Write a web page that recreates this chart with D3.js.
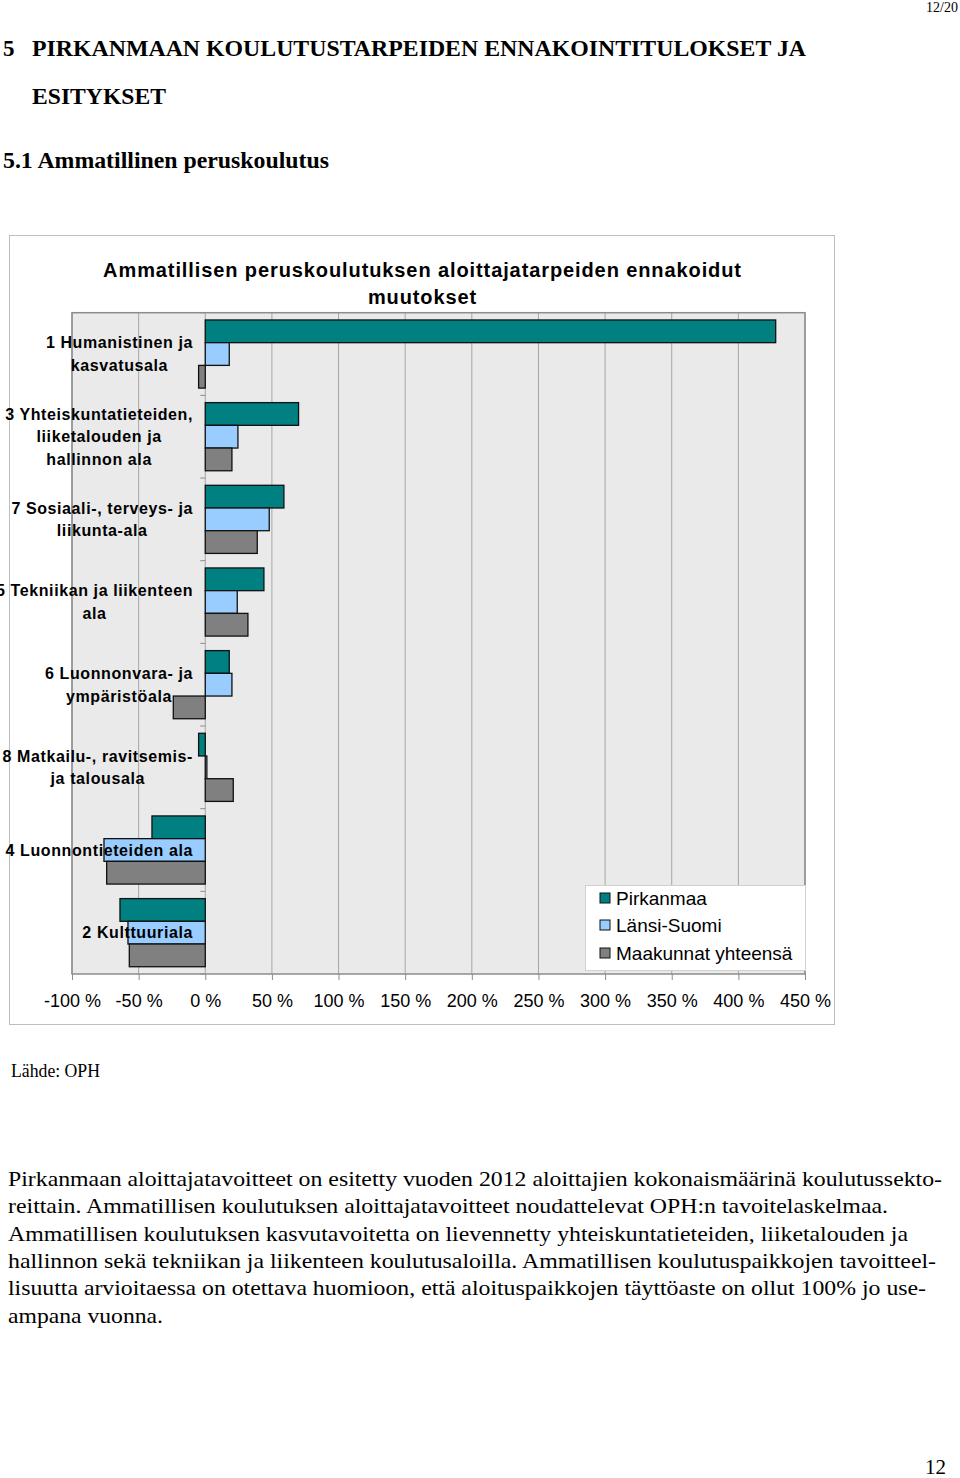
<!DOCTYPE html>
<html><head><meta charset="utf-8">
<script src="https://cdn.jsdelivr.net/npm/d3@7"></script>
<style>
html,body{margin:0;padding:0;background:#fff;}
svg{display:block;}
</style></head>
<body>
<svg id="page" width="960" height="1478"></svg>
<script>
// ---- data ----
const categories = [
  "1 Humanistinen ja kasvatusala",
  "3 Yhteiskuntatieteiden, liiketalouden ja hallinnon ala",
  "7 Sosiaali-, terveys- ja liikunta-ala",
  "5 Tekniikan ja liikenteen ala",
  "6 Luonnonvara- ja ympäristöala",
  "8 Matkailu-, ravitsemis- ja talousala",
  "4 Luonnontieteiden ala",
  "2 Kulttuuriala"
];
const categoryLines = [
  ["1 Humanistinen ja","kasvatusala"],
  ["3 Yhteiskuntatieteiden,","liiketalouden ja","hallinnon ala"],
  ["7 Sosiaali-, terveys- ja","liikunta-ala"],
  ["5 Tekniikan ja liikenteen","ala"],
  ["6 Luonnonvara- ja","ympäristöala"],
  ["8 Matkailu-, ravitsemis-","ja talousala"],
  ["4 Luonnontieteiden ala"],
  ["2 Kulttuuriala"]
];
const seriesNames = ["Pirkanmaa","Länsi-Suomi","Maakunnat yhteensä"];
const pirkanmaa  = [428, 70, 59, 44, 18, -5, -40, -64];
const lansiSuomi = [18, 24.5, 48, 24, 20, 1.2, -76, -58];
const maakunnat  = [-5, 20, 39, 32, -24, 21, -74, -57];
const xTicks = [-100,-50,0,50,100,150,200,250,300,350,400,450];
const colors = ["#008080","#99CCFF","#808080"];

const paragraph = [
  "Pirkanmaan aloittajatavoitteet on esitetty vuoden 2012 aloittajien kokonaismäärinä koulutussekto-",
  "reittain. Ammatillisen koulutuksen aloittajatavoitteet noudattelevat OPH:n tavoitelaskelmaa.",
  "Ammatillisen koulutuksen kasvutavoitetta on lievennetty yhteiskuntatieteiden, liiketalouden ja",
  "hallinnon sekä tekniikan ja liikenteen koulutusaloilla. Ammatillisen koulutuspaikkojen tavoitteel-",
  "lisuutta arvioitaessa on otettava huomioon, että aloituspaikkojen täyttöaste on ollut 100% jo use-",
  "ampana vuonna."
];
const paragraphRight = [942, 888, 908, 936, 926, 163];

const series = [pirkanmaa, lansiSuomi, maakunnat];

const svg = d3.select("#page");
svg.append("rect").attr("width",960).attr("height",1478).attr("fill","#fff");

const serif = "'Liberation Serif','Times New Roman',serif";
const sans = "'Liberation Sans',Arial,sans-serif";

// ---- page text ----
svg.append("text").attr("x",958).attr("y",12).attr("text-anchor","end")
  .attr("font-family",serif).attr("font-size",14).text("12/20");
svg.append("text").attr("x",3).attr("y",56).attr("font-family",serif).attr("font-weight","bold")
  .attr("font-size",23).text("5");
svg.append("text").attr("x",32).attr("y",56).attr("font-family",serif).attr("font-weight","bold")
  .attr("font-size",23).attr("textLength",774).attr("lengthAdjust","spacingAndGlyphs")
  .text("PIRKANMAAN KOULUTUSTARPEIDEN ENNAKOINTITULOKSET JA");
svg.append("text").attr("x",32).attr("y",104).attr("font-family",serif).attr("font-weight","bold")
  .attr("font-size",23).attr("textLength",134).attr("lengthAdjust","spacingAndGlyphs")
  .text("ESITYKSET");
svg.append("text").attr("x",3).attr("y",168).attr("font-family",serif).attr("font-weight","bold")
  .attr("font-size",23).attr("textLength",326).attr("lengthAdjust","spacingAndGlyphs")
  .text("5.1 Ammatillinen peruskoulutus");

// ---- chart frame ----
svg.append("rect").attr("x",9.5).attr("y",235.5).attr("width",825).attr("height",789)
  .attr("fill","#fff").attr("stroke","#BDBDBD").attr("stroke-width",1);

svg.append("text").attr("x",422.5).attr("y",277).attr("text-anchor","middle")
  .attr("font-family",sans).attr("font-weight","bold").attr("font-size",20).attr("letter-spacing","0.9px")
  .text("Ammatillisen peruskoulutuksen aloittajatarpeiden ennakoidut");
svg.append("text").attr("x",422.5).attr("y",304).attr("text-anchor","middle")
  .attr("font-family",sans).attr("font-weight","bold").attr("font-size",20).attr("letter-spacing","0.9px")
  .text("muutokset");

const plot = {left:72, right:805, top:312.7, bottom:974};
const x = d3.scaleLinear().domain([-100,450]).range([plot.left, plot.right]);
const y = d3.scaleBand().domain(categories).range([plot.top, plot.bottom]).padding(0);
const yInner = d3.scaleBand().domain(seriesNames).range([0, y.bandwidth()])
  .paddingInner(0).paddingOuter(0.32);

svg.append("rect").attr("x",plot.left).attr("y",plot.top)
  .attr("width",plot.right-plot.left).attr("height",plot.bottom-plot.top)
  .attr("fill","#EAEAEA");

// gridlines
svg.append("g").selectAll("line").data(xTicks).join("line")
  .attr("x1",d=>x(d)).attr("x2",d=>x(d)).attr("y1",plot.top).attr("y2",plot.bottom)
  .attr("stroke","#A6A6A6").attr("stroke-width",1);

svg.append("rect").attr("x",plot.left).attr("y",plot.top)
  .attr("width",plot.right-plot.left).attr("height",plot.bottom-plot.top)
  .attr("fill","none").attr("stroke","#8C8C8C").attr("stroke-width",1.5);

// category axis ticks at zero
const catBounds = categories.map(c=>y(c)).concat([plot.bottom]);
svg.append("g").selectAll("line").data(catBounds).join("line")
  .attr("x1",x(0)-5).attr("x2",x(0)).attr("y1",d=>d).attr("y2",d=>d)
  .attr("stroke","#8C8C8C").attr("stroke-width",1);

// bars
const g = svg.append("g");
categories.forEach((c,i)=>{
  series.forEach((s,j)=>{
    const v = s[i];
    g.append("rect")
      .attr("x", x(Math.min(0,v)))
      .attr("y", y(c)+yInner(seriesNames[j]))
      .attr("width", Math.abs(x(v)-x(0)))
      .attr("height", yInner.bandwidth())
      .attr("fill", colors[j]).attr("stroke","#111").attr("stroke-width",1.3);
  });
});

// bottom axis
const xAxis = d3.axisBottom(x).tickValues(xTicks).tickSize(6).tickFormat(d=>d+" %");
const ax = svg.append("g").attr("transform",`translate(0,${plot.bottom})`).call(xAxis);
ax.select(".domain").remove();
ax.selectAll(".tick line").attr("stroke","#8C8C8C");
ax.selectAll(".tick text").attr("font-family",sans).attr("font-size",18).attr("fill","#000")
  .attr("y",20).attr("dy","0.71em");

// category labels
const labG = svg.append("g");
categories.forEach((c,i)=>{
  const lines = categoryLines[i];
  const cy = y(c)+y.bandwidth()/2;
  const lh = 22.5;
  const t = labG.append("text").attr("font-family",sans).attr("font-weight","bold")
    .attr("font-size",16).attr("letter-spacing","0.6px").attr("fill","#000");
  const spans = lines.map((l,k)=> t.append("tspan").attr("y", cy + (k-(lines.length-1)/2)*lh).attr("dy","0.35em").text(l));
  let maxW = 0;
  spans.forEach(sp=>{ maxW = Math.max(maxW, sp.node().getComputedTextLength()); });
  const center = 193 - maxW/2;
  t.attr("text-anchor","middle");
  spans.forEach(sp=> sp.attr("x", center));
});

// legend
const leg = svg.append("g");
leg.append("rect").attr("x",585.5).attr("y",885.5).attr("width",220).attr("height",85)
  .attr("fill","#fff").attr("stroke","#D0D0D0");
const legY = [898, 925, 953];
seriesNames.forEach((n,j)=>{
  leg.append("rect").attr("x",600).attr("y",legY[j]-5).attr("width",10).attr("height",10)
    .attr("fill",colors[j]).attr("stroke","#111").attr("stroke-width",1);
  leg.append("text").attr("x",616).attr("y",legY[j]).attr("dy","0.35em")
    .attr("font-family",sans).attr("font-size",19).text(n);
});

// source & paragraph
svg.append("text").attr("x",11).attr("y",1077).attr("font-family",serif).attr("font-size",18)
  .attr("textLength",89).attr("lengthAdjust","spacingAndGlyphs").text("Lähde: OPH");

paragraph.forEach((l,i)=>{
  svg.append("text").attr("x",8).attr("y",1186+i*27.3).attr("font-family",serif)
    .attr("font-size",21.5).attr("textLength",paragraphRight[i]-8)
    .attr("lengthAdjust","spacingAndGlyphs").text(l);
});

svg.append("text").attr("x",946).attr("y",1474).attr("text-anchor","end")
  .attr("font-family",serif).attr("font-size",21).text("12");
</script>
</body></html>
